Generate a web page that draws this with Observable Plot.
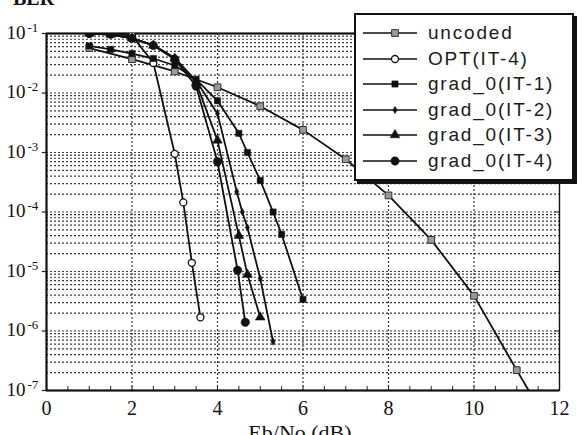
<!DOCTYPE html>
<html>
<head>
<meta charset="utf-8">
<script src="https://cdn.jsdelivr.net/npm/d3@7"></script>
<script src="https://cdn.jsdelivr.net/npm/@observablehq/plot@0.6"></script>
<style>
html,body{margin:0;padding:0;background:#fff;}
#wrap{position:relative;width:587px;height:435px;overflow:hidden;background:#fff;}
#chart{position:absolute;left:0;top:0;}
#title{position:absolute;left:13px;top:-12px;font:bold 20px/20px "Liberation Serif",serif;color:#111;}
#xlabel{position:absolute;left:200px;width:200px;top:422px;text-align:center;font:22px/22px "Liberation Serif",serif;color:#111;}
#legend{position:absolute;left:354px;top:13px;width:220px;height:168px;box-sizing:border-box;border:2px solid #111;box-shadow:3px 3px 0 #111;background:#fff;}
.row{position:absolute;left:0;height:22px;width:210px;}
.row svg{position:absolute;left:7px;top:0;}
.row span{position:absolute;left:72px;top:0;font:19px/22px "Liberation Sans",Arial,sans-serif;letter-spacing:1.8px;color:#1a1a1a;white-space:nowrap;}
</style>
</head>
<body>
<div id="wrap">
  <div id="chart"></div>
  <div id="title">BER</div>
  <div id="xlabel">Eb/No (dB)</div>
  <div id="legend"></div>
</div>
<script>
// ---- axis / tick definitions ----
const decadeExps = [-7, -6, -5, -4, -3, -2, -1];
const gridMultipliers = [1, 2, 3, 4, 5, 6, 7, 8, 9];
const xTickLabels = [0, 2, 4, 6, 8, 10, 12];
const xGrid = [2, 4, 6, 8, 10];
const xMinorTicks = [0.5, 1, 1.5, 2, 2.5, 3, 3.5, 4, 4.5, 5, 5.5, 6, 6.5, 7, 7.5, 8, 8.5, 9, 9.5, 10, 10.5, 11, 11.5];

// ---- series ----
const seriesNames = ["uncoded", "OPT(IT-4)", "grad_0(IT-1)", "grad_0(IT-2)", "grad_0(IT-3)", "grad_0(IT-4)"];

const uncodedX   = [1, 2, 3, 4, 5, 6, 7, 8, 9, 10, 11, 12];
const uncodedBER = [0.057, 0.037, 0.023, 0.0125, 0.006, 0.0024, 7.7e-4, 1.9e-4, 3.4e-5, 3.9e-6, 2.2e-7, 1.3e-8];

const optX   = [1, 1.5, 2, 2.5, 3, 3.2, 3.4, 3.6];
const optBER = [0.1, 0.1, 0.092, 0.032, 9.5e-4, 1.45e-4, 1.4e-5, 1.7e-6];

const it1X   = [1, 1.5, 2, 2.5, 3, 3.5, 4, 4.5, 4.7, 5, 5.3, 5.5, 6];
const it1BER = [0.062, 0.054, 0.046, 0.038, 0.029, 0.017, 0.0074, 0.0021, 0.001, 3.4e-4, 1e-4, 4.2e-5, 3.4e-6];

const it2X   = [1, 1.5, 2, 2.5, 3, 3.5, 4, 4.45, 4.58, 4.7, 5, 5.3];
const it2BER = [0.1, 0.096, 0.084, 0.064, 0.039, 0.016, 0.0045, 2.2e-4, 1e-4, 5.5e-5, 7.6e-6, 6.6e-7];

const it3X   = [1, 1.5, 2, 2.5, 3, 3.5, 4, 4.5, 4.7, 5];
const it3BER = [0.1, 0.096, 0.083, 0.063, 0.038, 0.015, 0.0016, 4e-5, 8.9e-6, 1.7e-6];

const it4X   = [1, 1.5, 2, 2.5, 3, 3.5, 4, 4.47, 4.65];
const it4BER = [0.1, 0.097, 0.083, 0.063, 0.037, 0.013, 7e-4, 1.05e-5, 1.4e-6];

const seriesX = [uncodedX, optX, it1X, it2X, it3X, it4X];
const seriesY = [uncodedBER, optBER, it1BER, it2BER, it3BER, it4BER];

const markerStyle = {
  "uncoded":      {symbol: "square",   r: 3.8, fill: "#9a9a9a", stroke: "#333", strokeWidth: 1},
  "OPT(IT-4)":    {symbol: "circle",   r: 3.5, fill: "#fff",    stroke: "#111", strokeWidth: 1.3},
  "grad_0(IT-1)": {symbol: "square",   r: 3.5, fill: "#111",    stroke: "#111", strokeWidth: 0.5},
  "grad_0(IT-2)": {symbol: "diamond",  r: 2.2, fill: "#111",    stroke: "#111", strokeWidth: 0.5},
  "grad_0(IT-3)": {symbol: "triangle", r: 3.6, fill: "#111",    stroke: "#111", strokeWidth: 0.5},
  "grad_0(IT-4)": {symbol: "circle",   r: 4.2, fill: "#111",    stroke: "#111", strokeWidth: 0.5}
};

// ---- build tables ----
const rows = [];
seriesNames.forEach((name, i) => {
  seriesX[i].forEach((x, j) => rows.push({series: name, x, y: seriesY[i][j]}));
});
const gridY = [];
decadeExps.forEach(e => gridMultipliers.forEach(m => {
  const v = m * Math.pow(10, e);
  if (v > 1.0001e-7 && v < 0.0999) gridY.push(v);
}));

const dotMarks = seriesNames.map(name => {
  const s = markerStyle[name];
  return Plot.dot(rows.filter(d => d.series === name), {
    x: "x", y: "y", symbol: s.symbol, r: s.r, fill: s.fill, stroke: s.stroke, strokeWidth: s.strokeWidth, clip: true
  });
});

const fig = Plot.plot({
  width: 587, height: 435,
  marginLeft: 46, marginRight: 28, marginTop: 33, marginBottom: 45,
  style: {fontFamily: "'Liberation Serif', 'Times New Roman', serif", fontSize: "20px", color: "#111", background: "transparent", overflow: "visible"},
  x: {domain: [0, 12], ticks: xTickLabels, tickSize: 0, tickPadding: 10, label: null, tickFormat: d => String(d)},
  y: {type: "log", domain: [1e-7, 1e-1], axis: null},
  marks: [
    Plot.ruleY(gridY, {stroke: "#3a3a3a", strokeWidth: 1.2, strokeDasharray: "2,2"}),
    Plot.ruleX(xGrid, {stroke: "#3a3a3a", strokeWidth: 1.2, strokeDasharray: "2,2"}),
    Plot.ruleX(xMinorTicks, {stroke: "#222", strokeWidth: 1, insetTop: 353}),
    Plot.ruleY(decadeExps.map(e => Math.pow(10, e)), {stroke: "#222", strokeWidth: 1, insetLeft: 508}),
    Plot.ruleY(decadeExps.map(e => Math.pow(10, e)), {x1: -0.1, x2: 0, stroke: "#222", strokeWidth: 1.2}),
    Plot.frame({stroke: "#111", strokeWidth: 1.4}),
    Plot.ruleX([0], {stroke: "#111", strokeWidth: 2}),
    Plot.ruleY([1e-7], {stroke: "#111", strokeWidth: 2}),
    Plot.ruleY([1e-1], {stroke: "#111", strokeWidth: 1.8}),
    Plot.line(rows, {x: "x", y: "y", z: "series", stroke: "#111", strokeWidth: 1.8, clip: true}),
    ...dotMarks,
    Plot.text(decadeExps, {y: d => Math.pow(10, d), text: () => "10", frameAnchor: "left", textAnchor: "end", dx: -21, dy: -1, fontSize: 19, fill: "#111"}),
    Plot.text(decadeExps, {y: d => Math.pow(10, d), text: d => String(d), frameAnchor: "left", textAnchor: "start", dx: -19, dy: -6, fontSize: 13, fill: "#111"})
  ]
});
document.getElementById("chart").appendChild(fig);

// ---- legend ----
const legend = d3.select("#legend");
seriesNames.forEach((name, i) => {
  const s = markerStyle[name];
  const row = legend.append("div").attr("class", "row").style("top", (7 + i * 25.5) + "px");
  const svg = row.append("svg").attr("width", 60).attr("height", 22);
  svg.append("line").attr("x1", 0).attr("x2", 54).attr("y1", 11).attr("y2", 11)
    .attr("stroke", "#111").attr("stroke-width", 1.7);
  const symMap = {square: d3.symbolSquare, circle: d3.symbolCircle, diamond: d3.symbolDiamond, triangle: d3.symbolTriangle};
  svg.append("path")
    .attr("transform", "translate(32,11)")
    .attr("d", d3.symbol(symMap[s.symbol], s.r * s.r * Math.PI)())
    .attr("fill", s.fill).attr("stroke", s.stroke).attr("stroke-width", s.strokeWidth);
  row.append("span").text(name);
});
</script>
</body>
</html>
